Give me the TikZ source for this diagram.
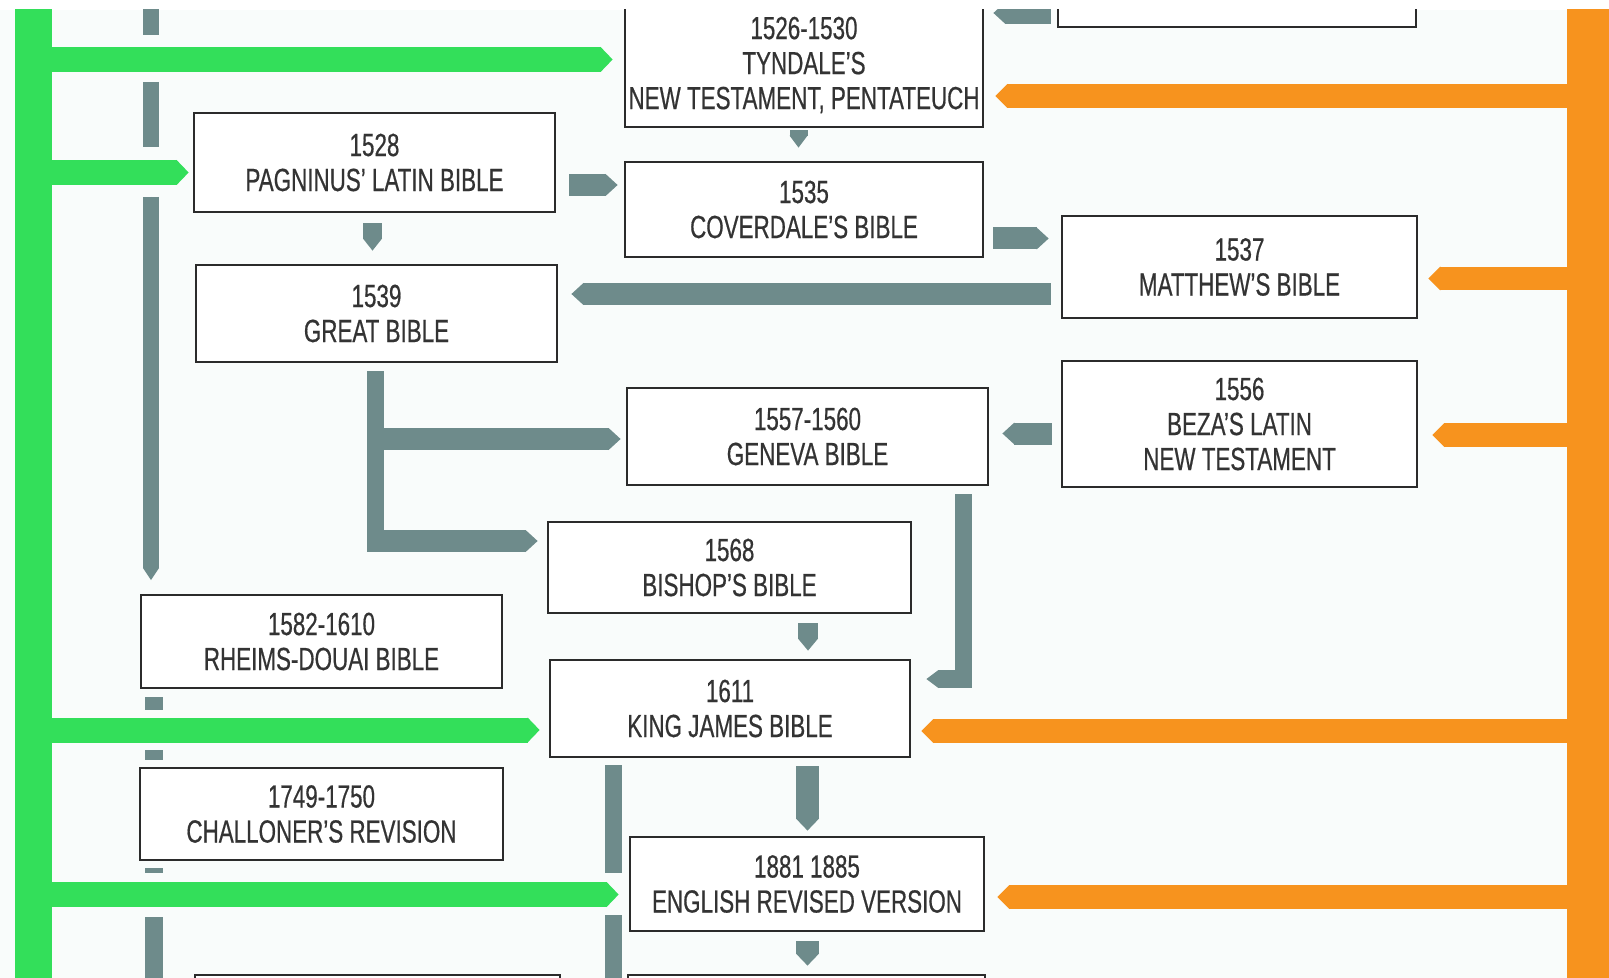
\documentclass[tikz,border=0pt]{standalone}
\usepackage{fontspec}
\setmainfont{Liberation Sans}[FakeStretch=0.70, FakeBold=0.5]
\usetikzlibrary{arrows.meta}

\definecolor{paper}{HTML}{F9FCFB}
\definecolor{latinline}{HTML}{33DF5A}
\definecolor{greekline}{HTML}{F7931E}
\definecolor{englishline}{HTML}{6E8B8B}
\definecolor{frame}{HTML}{2B2B2B}
\definecolor{ink}{HTML}{333333}

\tikzset{
  version/.style={draw=frame, line width=1.4pt, fill=white, inner sep=0pt,
    align=center, text=ink, font=\fontsize{16}{17.5}\selectfont},
  fat/.style={line width=#1, -{Triangle[length=6pt, width=#1, line width=0pt]}},
  greenflow/.style={draw=latinline, fill=latinline, fat=12.5pt},
  orangeflow/.style={draw=greekline, fill=greekline, fat=12pt},
  grayflow/.style={draw=englishline, fill=englishline, fat=#1},
  grayflow/.default=11pt,
  trunk/.style={draw=englishline, line width=#1},
}

% box given by its corners (left, top, right, bottom) in pixel units
\newcommand\verbox[6]{%
  \node[version, minimum width={((#4)-(#2))*0.5pt}, minimum height={((#5)-(#3))*0.5pt}]
    (#1) at ({((#2)+(#4))/2},{((#3)+(#5))/2}) {#6};}

\begin{document}
\begin{tikzpicture}[x=0.5pt, y=-0.5pt]
\useasboundingbox (0,0) rectangle (1609,978);
\fill[paper] (0,0) rectangle (1609,978);
\fill[white] (0,0) rectangle (1609,10);

\begin{scope}
\clip (0,10) rectangle (1609,978);

% source bars: Hebrew/Latin on the left, Greek on the right
\fill[latinline] (15,0) rectangle (52,990);
\fill[greekline] (1567,0) rectangle (1609,990);

% translations
\verbox{tyn}{625}{3}{983}{127}{1526-1530\\TYNDALE'S\\NEW TESTAMENT, PENTATEUCH}
\verbox{prev}{1058}{-80}{1416}{27}{}
\verbox{pag}{194}{113}{555}{212}{1528\\PAGNINUS' LATIN BIBLE}
\verbox{cov}{625}{162}{983}{257}{1535\\COVERDALE'S BIBLE}
\verbox{mat}{1062}{216}{1417}{318}{1537\\MATTHEW'S BIBLE}
\verbox{great}{196}{265}{557}{362}{1539\\GREAT BIBLE}
\verbox{gen}{627}{388}{988}{485}{1557-1560\\GENEVA BIBLE}
\verbox{beza}{1062}{361}{1417}{487}{1556\\BEZA'S LATIN\\NEW TESTAMENT}
\verbox{bish}{548}{522}{911}{613}{1568\\BISHOP'S BIBLE}
\verbox{rheims}{141}{595}{502}{688}{1582-1610\\RHEIMS-DOUAI BIBLE}
\verbox{kjv}{550}{660}{910}{757}{1611\\KING JAMES BIBLE}
\verbox{chall}{140}{768}{503}{860}{1749-1750\\CHALLONER'S REVISION}
\verbox{erv}{630}{837}{984}{931}{1881 1885\\ENGLISH REVISED VERSION}
\verbox{nextl}{195}{975}{560}{1070}{}
\verbox{nextm}{628}{975}{985}{1070}{}

% feeds from the left bar
\coordinate (g1) at (40,59.5);
\coordinate (g2) at (40,172.5);
\coordinate (g3) at (40,730);
\coordinate (g4) at (40,894.5);
\draw[greenflow, shorten >=5.5pt] (g1) -- (g1 -| tyn.west);
\draw[greenflow, shorten >=2pt] (g2) -- (g2 -| pag.west);
\draw[greenflow, shorten >=4.5pt] (g3) -- (g3 -| kjv.west);
\draw[greenflow, shorten >=5pt] (g4) -- (g4 -| erv.west);

% feeds from the right bar
\coordinate (o1) at (1580,96);
\coordinate (o2) at (1580,278.5);
\coordinate (o3) at (1580,435);
\coordinate (o4) at (1580,731);
\coordinate (o5) at (1580,897);
\draw[orangeflow, shorten >=5.5pt] (o1) -- (o1 -| tyn.east);
\draw[orangeflow, line width=11.5pt, shorten >=5pt] (o2) -- (o2 -| mat.east);
\draw[orangeflow, shorten >=7pt] (o3) -- (o3 -| beza.east);
\draw[orangeflow, shorten >=5pt] (o4) -- (o4 -| kjv.east);
\draw[orangeflow, shorten >=6pt] (o5) -- (o5 -| erv.east);

% English line of descent
\draw[grayflow, shorten <=3pt, shorten >=4.5pt] (prev.west |- 0,13) -- (tyn.east |- 0,13);
\draw[grayflow=9pt, shorten <=1pt, shorten >=6.5pt] (tyn.south -| 798.5,0) -- (cov.north -| 798.5,0);
\draw[grayflow, shorten <=6.5pt, shorten >=3pt] (pag.east |- 0,185) -- (cov.west |- 0,185);
\draw[grayflow=9.5pt, shorten <=5pt, shorten >=6.5pt] (pag.south -| 372.5,0) -- (great.north -| 372.5,0);
\draw[grayflow, shorten <=4.5pt, shorten >=6pt] (cov.east |- 0,238.5) -- (mat.west |- 0,238.5);
\draw[grayflow, shorten <=5pt, shorten >=6.5pt] (mat.west |- 0,294) -- (great.east |- 0,294);
\draw[grayflow, shorten <=4.5pt, shorten >=6.5pt] (beza.west |- 0,433.5) -- (gen.east |- 0,433.5);

% Great Bible branches to Geneva and Bishop's
\draw[trunk=8.5pt] (great.south -| 375.5,0) ++(0,8) -- (375.5,552);
\draw[grayflow, shorten >=2.5pt] (367,439) -- (gen.west |- 0,439);
\draw[grayflow, shorten >=4.5pt] (367,541) -- (bish.west |- 0,541);

% Geneva and Bishop's into the King James Bible
\draw[trunk=8.5pt] (gen.south -| 963,0) ++(0,8) -- (963,688);
\draw[grayflow=9pt, shorten >=7.5pt] (971,679) -- (kjv.east |- 0,679);
\draw[grayflow=10pt, shorten <=4.5pt, shorten >=4pt] (bish.south -| 808,0) -- (kjv.north -| 808,0);
\draw[grayflow=11.5pt, shorten <=4pt, shorten >=2.5pt] (kjv.south -| 807.5,0) -- (erv.north -| 807.5,0);
\draw[grayflow=11.5pt, shorten <=4.5pt, shorten >=4pt] (erv.south -| 807.5,0) -- (nextm.north -| 807.5,0);

% Catholic line on the left
\draw[trunk=8pt] (151,0) -- (151,35);
\draw[trunk=8pt] (151,82) -- (151,147);
\draw[grayflow=8pt] (151,197) -- (151,580);
\foreach \ya/\yb in {697/710, 750/760, 868/873, 917/990}
  \fill[englishline] (145,\ya) rectangle (163,\yb);

% line running down beside the Revised Version
\fill[englishline] (605,765) rectangle (622,873);
\fill[englishline] (605,915) rectangle (622,990);
\end{scope}
\end{tikzpicture}
\end{document}
